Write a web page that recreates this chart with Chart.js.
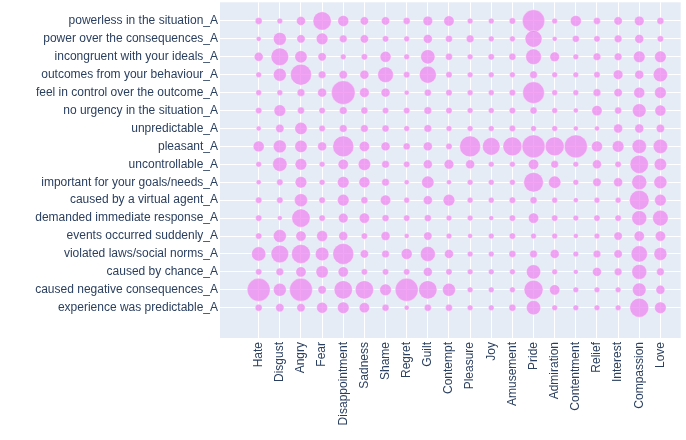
<!DOCTYPE html>
<html>
<head>
<meta charset="utf-8">
<script src="https://cdn.jsdelivr.net/npm/chart.js@4"></script>
<style>
  html, body { margin: 0; padding: 0; background: #fff; overflow: hidden; }
  #wrap { width: 686px; height: 440px; overflow: hidden; }
  #bubbleChart { display: block; margin-top: -10px; }
</style>
</head>
<body>
<div id="wrap"><canvas id="bubbleChart" width="693" height="450"></canvas></div>
<script>
const emotions = ['Hate', 'Disgust', 'Angry', 'Fear', 'Disappointment', 'Sadness', 'Shame', 'Regret', 'Guilt', 'Contempt',
  'Pleasure', 'Joy', 'Amusement', 'Pride', 'Admiration', 'Contentment', 'Relief', 'Interest', 'Compassion', 'Love'];

const appraisals = ['powerless in the situation_A', 'power over the consequences_A', 'incongruent with your ideals_A',
  'outcomes from your behaviour_A', 'feel in control over the outcome_A', 'no urgency in the situation_A',
  'unpredictable_A', 'pleasant_A', 'uncontrollable_A', 'important for your goals/needs_A',
  'caused by a virtual agent_A', 'demanded immediate response_A', 'events occurred suddenly_A',
  'violated laws/social norms_A', 'caused by chance_A', 'caused negative consequences_A', 'experience was predictable_A'];

// one array per appraisal row, values in emotion order
const powerless     = [16, 12, 22, 50, 28, 20, 20, 16, 24, 26, 12, 12, 14, 62, 12, 28, 16, 20, 24, 16];
const powerOver     = [10, 34, 20, 30, 18, 20, 14, 12, 22, 16, 18, 12, 12, 46, 10, 16, 14, 18, 22, 14];
const incongruent   = [22, 48, 32, 20, 12, 14, 28, 12, 38, 16, 12, 14, 16, 42, 24, 12, 18, 18, 30, 30];
const outcomes      = [12, 34, 58, 18, 20, 22, 42, 14, 46, 14, 12, 12, 12, 18, 12, 12, 14, 24, 22, 38];
const inControl     = [12, 12, 18, 22, 66, 24, 22, 10, 16, 14, 12, 12, 14, 60, 12, 12, 18, 20, 28, 30];
const noUrgency     = [14, 30, 16, 14, 18, 16, 14, 14, 18, 14, 12, 12, 14, 16, 12, 10, 26, 16, 36, 28];
const unpredictable = [10, 20, 32, 14, 18, 18, 16, 12, 18, 12, 12, 12, 14, 12, 12, 10, 10, 22, 22, 20];
const pleasant      = [28, 34, 32, 22, 58, 26, 22, 16, 22, 14, 58, 48, 52, 64, 52, 64, 28, 30, 38, 38];
const uncontrolled  = [12, 38, 30, 12, 26, 32, 18, 14, 22, 24, 22, 12, 12, 26, 18, 12, 22, 14, 50, 32];
const important     = [10, 14, 30, 12, 30, 28, 18, 10, 32, 10, 12, 12, 12, 54, 32, 12, 20, 22, 40, 34];
const virtualAgent  = [14, 14, 34, 14, 30, 16, 26, 12, 22, 30, 12, 12, 14, 16, 12, 10, 12, 12, 54, 30];
const immediate     = [14, 10, 50, 14, 24, 26, 16, 14, 16, 12, 12, 10, 14, 26, 14, 12, 14, 14, 40, 42];
const sudden        = [14, 34, 26, 28, 22, 14, 22, 10, 20, 12, 10, 12, 14, 12, 12, 10, 12, 20, 26, 26];
const violated      = [38, 48, 52, 36, 58, 20, 18, 28, 40, 22, 12, 12, 16, 18, 22, 12, 18, 20, 44, 34];
const chance        = [14, 18, 26, 32, 26, 14, 14, 14, 22, 14, 12, 12, 12, 38, 12, 10, 22, 18, 40, 18];
const negative      = [64, 34, 64, 20, 50, 50, 30, 64, 50, 34, 12, 12, 12, 52, 26, 12, 12, 12, 36, 22];
const predictable   = [16, 20, 20, 28, 30, 26, 16, 10, 16, 16, 12, 12, 16, 38, 12, 12, 12, 12, 52, 30];

const rows = [powerless, powerOver, incongruent, outcomes, inControl, noUrgency, unpredictable, pleasant,
  uncontrolled, important, virtualAgent, immediate, sudden, violated, chance, negative, predictable];

const points = [];
rows.forEach((vals, yi) => {
  vals.forEach((v, xi) => {
    points.push({ x: xi, y: yi, r: v / 6 + 0.8 });
  });
});

const plotBg = {
  id: 'plotBg',
  beforeDraw(chart) {
    const { ctx, chartArea: a } = chart;
    ctx.save();
    ctx.fillStyle = '#E5ECF6';
    ctx.fillRect(a.left, a.top, a.right - a.left, a.bottom - a.top);
    ctx.restore();
  }
};

const intTicks = n => scale => {
  scale.ticks = [];
  for (let i = 0; i < n; i++) scale.ticks.push({ value: i });
};

Chart.defaults.font.family = 'Arial, "Liberation Sans", sans-serif';
Chart.defaults.font.size = 12;
Chart.defaults.color = '#2a3f5f';

new Chart(document.getElementById('bubbleChart').getContext('2d'), {
  type: 'bubble',
  data: {
    datasets: [{
      data: points,
      backgroundColor: 'rgba(238, 130, 238, 0.72)',
      borderColor: 'rgba(255, 255, 255, 0.6)',
      borderWidth: 0.5,
      clip: false
    }]
  },
  options: {
    responsive: false,
    animation: false,
    layout: { padding: { top: 2, right: 5, left: 0, bottom: 0 } },
    plugins: { legend: { display: false }, tooltip: { enabled: false } },
    scales: {
      x: {
        type: 'linear',
        min: -1.83,
        max: 19.96,
        afterBuildTicks: intTicks(emotions.length),
        afterFit: s => { s.height = 102; },
        grid: { color: '#ffffff', lineWidth: 1, drawTicks: false },
        border: { display: false },
        ticks: {
          autoSkip: false,
          minRotation: 90,
          maxRotation: 90,
          padding: 4,
          callback: v => emotions[v]
        }
      },
      y: {
        type: 'linear',
        reverse: true,
        min: -1.04,
        max: 17.69,
        afterBuildTicks: intTicks(appraisals.length),
        afterFit: s => { s.width = 220; },
        grid: { color: '#ffffff', lineWidth: 1, drawTicks: false },
        border: { display: false },
        ticks: {
          autoSkip: false,
          padding: 2,
          callback: v => appraisals[v]
        }
      }
    }
  },
  plugins: [plotBg]
});
</script>
</body>
</html>
